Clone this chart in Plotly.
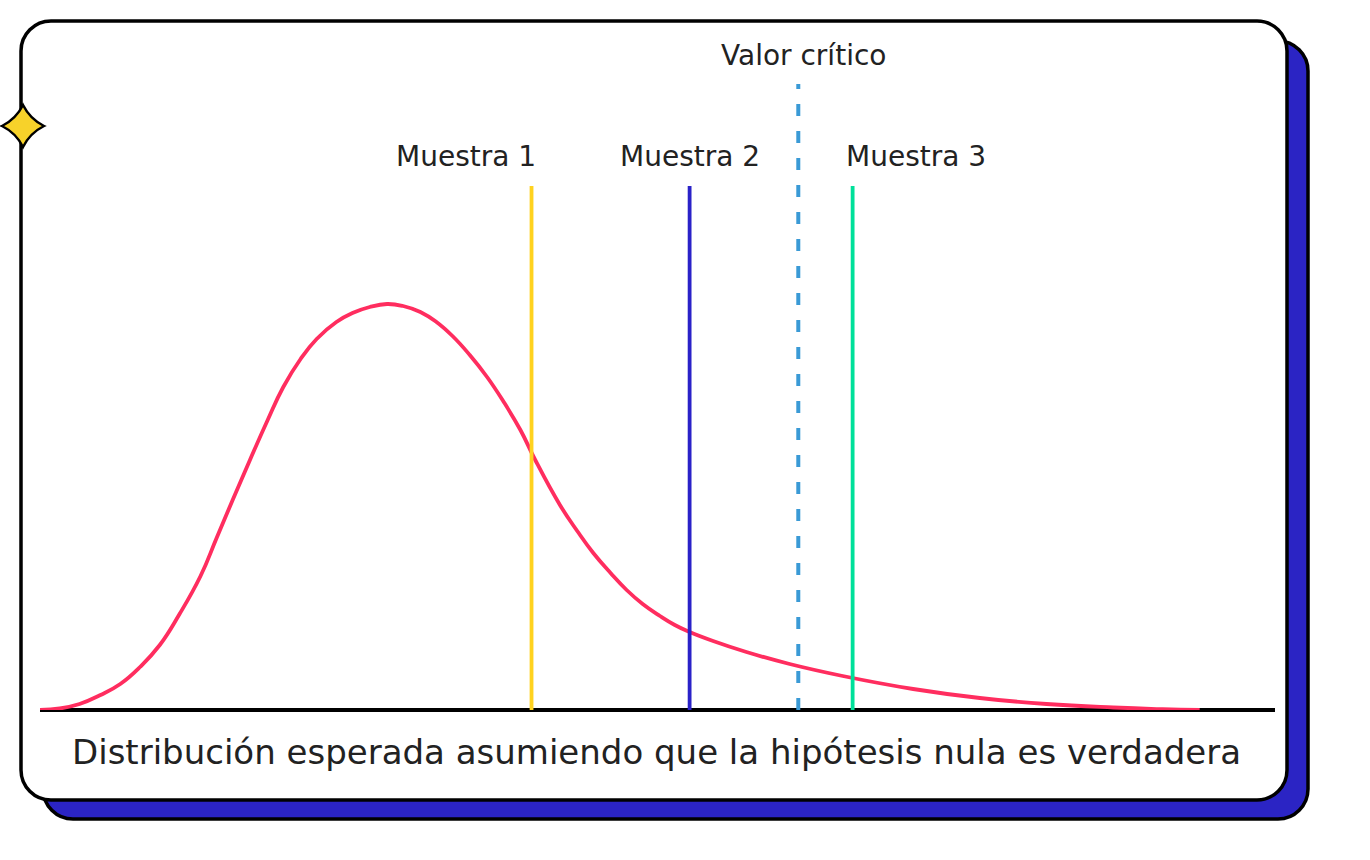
import plotly.graph_objects as go

# ---------------- data ----------------
curve_x = [0.0, 1.6, 3.2, 4.9, 6.5, 8.1, 9.7, 11.3, 13.0, 14.3, 15.6, 17.0, 18.4, 19.7,
           21.1, 22.4, 24.0, 25.3, 26.7, 28.1, 29.4, 30.8, 32.1, 33.4, 34.8, 36.2, 37.5,
           38.9, 40.1, 42.1, 43.5, 44.8, 46.2, 47.5, 48.8, 50.2, 51.4, 52.6, 54.5, 57.2,
           60.7, 65.0, 70.7, 76.1, 81.5, 86.9, 90.9, 93.9]
curve_y = [0.000, 0.0015, 0.006, 0.015, 0.026, 0.043, 0.065, 0.096, 0.134, 0.172, 0.210,
           0.250, 0.289, 0.323, 0.351, 0.371, 0.388, 0.397, 0.403, 0.406, 0.404, 0.398,
           0.388, 0.374, 0.355, 0.333, 0.309, 0.280, 0.250, 0.205, 0.179, 0.157, 0.137,
           0.120, 0.106, 0.094, 0.085, 0.078, 0.069, 0.058, 0.046, 0.034, 0.021, 0.012,
           0.006, 0.0025, 0.0008, 0.000]

sample_names = ["Muestra 1", "Muestra 2", "Muestra 3"]
sample_x = [39.8, 52.6, 65.8]
sample_top = [0.524, 0.524, 0.524]
critical_name = "Valor crítico"
critical_x = 61.4
critical_top = 0.626
x_label = "Distribución esperada asumiendo que la hipótesis nula es verdadera"

# ---------------- styles ----------------
W, H = 1370, 860
PINK = "#FF2D5F"
SAMPLE_COLORS = ["#FFD21F", "#2A22C8", "#00E09A"]
CRIT_COLOR = "#3A9AD6"
SHADOW = "#2B24C4"
TEXT = "#222222"
FONT = "DejaVu Sans"

def px(x):
    return x / W

def py(y):
    return 1 - y / H

def rounded_rect(x0, y0, x1, y1, r):
    k = 0.5523 * r
    pts = [
        f"M {px(x0 + r)},{py(y0)}",
        f"L {px(x1 - r)},{py(y0)}",
        f"C {px(x1 - r + k)},{py(y0)} {px(x1)},{py(y0 + r - k)} {px(x1)},{py(y0 + r)}",
        f"L {px(x1)},{py(y1 - r)}",
        f"C {px(x1)},{py(y1 - r + k)} {px(x1 - r + k)},{py(y1)} {px(x1 - r)},{py(y1)}",
        f"L {px(x0 + r)},{py(y1)}",
        f"C {px(x0 + r - k)},{py(y1)} {px(x0)},{py(y1 - r + k)} {px(x0)},{py(y1 - r)}",
        f"L {px(x0)},{py(y0 + r)}",
        f"C {px(x0)},{py(y0 + r - k)} {px(x0 + r - k)},{py(y0)} {px(x0 + r)},{py(y0)}",
        "Z",
    ]
    return " ".join(pts)

def star(cx, cy, rx, ry, c):
    return " ".join([
        f"M {px(cx)},{py(cy - ry)}",
        f"Q {px(cx + c)},{py(cy - c)} {px(cx + rx)},{py(cy)}",
        f"Q {px(cx + c)},{py(cy + c)} {px(cx)},{py(cy + ry)}",
        f"Q {px(cx - c)},{py(cy + c)} {px(cx - rx)},{py(cy)}",
        f"Q {px(cx - c)},{py(cy - c)} {px(cx)},{py(cy - ry)}",
        "Z",
    ])

# plot area geometry (pixels)
PL, PR, PB, PT = 40, 1275, 710, 84
X_RANGE = [0, 100]
Y_RANGE = [0, (PB - PT) / 1000]

fig = go.Figure()

fig.add_trace(go.Scatter(x=curve_x, y=curve_y, mode="lines",
                         line=dict(color=PINK, width=3.8, shape="spline", smoothing=1.3),
                         hoverinfo="skip", showlegend=False))

for name, xv, top, col in zip(sample_names, sample_x, sample_top, SAMPLE_COLORS):
    fig.add_trace(go.Scatter(x=[xv, xv], y=[0, top], mode="lines", line=dict(color=col, width=3.8),
                             name=name, hoverinfo="skip", showlegend=False))

fig.add_trace(go.Scatter(x=[critical_x, critical_x], y=[0, critical_top], mode="lines",
                         line=dict(color=CRIT_COLOR, width=4, dash="12px,15px"),
                         name=critical_name, hoverinfo="skip", showlegend=False))

shapes = [
    dict(type="path", xref="paper", yref="paper", layer="below",
         path=rounded_rect(43, 41, 1308, 819, 30), fillcolor=SHADOW, line=dict(color="#000000", width=3.5)),
    dict(type="path", xref="paper", yref="paper", layer="below",
         path=rounded_rect(21, 21, 1287, 800, 30), fillcolor="#FFFFFF", line=dict(color="#000000", width=3.5)),
    dict(type="path", xref="paper", yref="paper", layer="above",
         path=star(23, 126, 21, 21, 7), fillcolor="#F7D22A", line=dict(color="#000000", width=2.5)),
    dict(type="line", xref="paper", yref="paper", layer="below",
         x0=px(PL), x1=px(PR), y0=py(PB), y1=py(PB), line=dict(color="#000000", width=4)),
]

label_xpos = [34.5, 52.6, 70.9]
annotations = []
for name, lx in zip(sample_names, label_xpos):
    annotations.append(dict(x=lx, y=py(156), xref="x", yref="paper", text=name, showarrow=False,
                            font=dict(family=FONT, size=28, color=TEXT), xanchor="center", yanchor="middle"))
annotations.append(dict(x=61.8, y=py(55), xref="x", yref="paper", text=critical_name, showarrow=False,
                        font=dict(family=FONT, size=28, color=TEXT), xanchor="center", yanchor="middle"))
annotations.append(dict(x=px(656), y=py(752), xref="paper", yref="paper", text=x_label, showarrow=False,
                        font=dict(family=FONT, size=34, color=TEXT), xanchor="center", yanchor="middle"))

fig.update_layout(
    width=W, height=H, autosize=False,
    margin=dict(l=0, r=0, t=0, b=0),
    paper_bgcolor="#FFFFFF", plot_bgcolor="rgba(0,0,0,0)",
    xaxis=dict(domain=[px(PL), px(PR)], range=X_RANGE, visible=False, fixedrange=True),
    yaxis=dict(domain=[py(PB), py(PT)], range=Y_RANGE, visible=False, fixedrange=True),
    shapes=shapes, annotations=annotations, showlegend=False,
)

fig.write_html("out.html", config={"displayModeBar": False},
               post_script="document.body.style.margin='0';document.body.style.overflow='hidden';")
